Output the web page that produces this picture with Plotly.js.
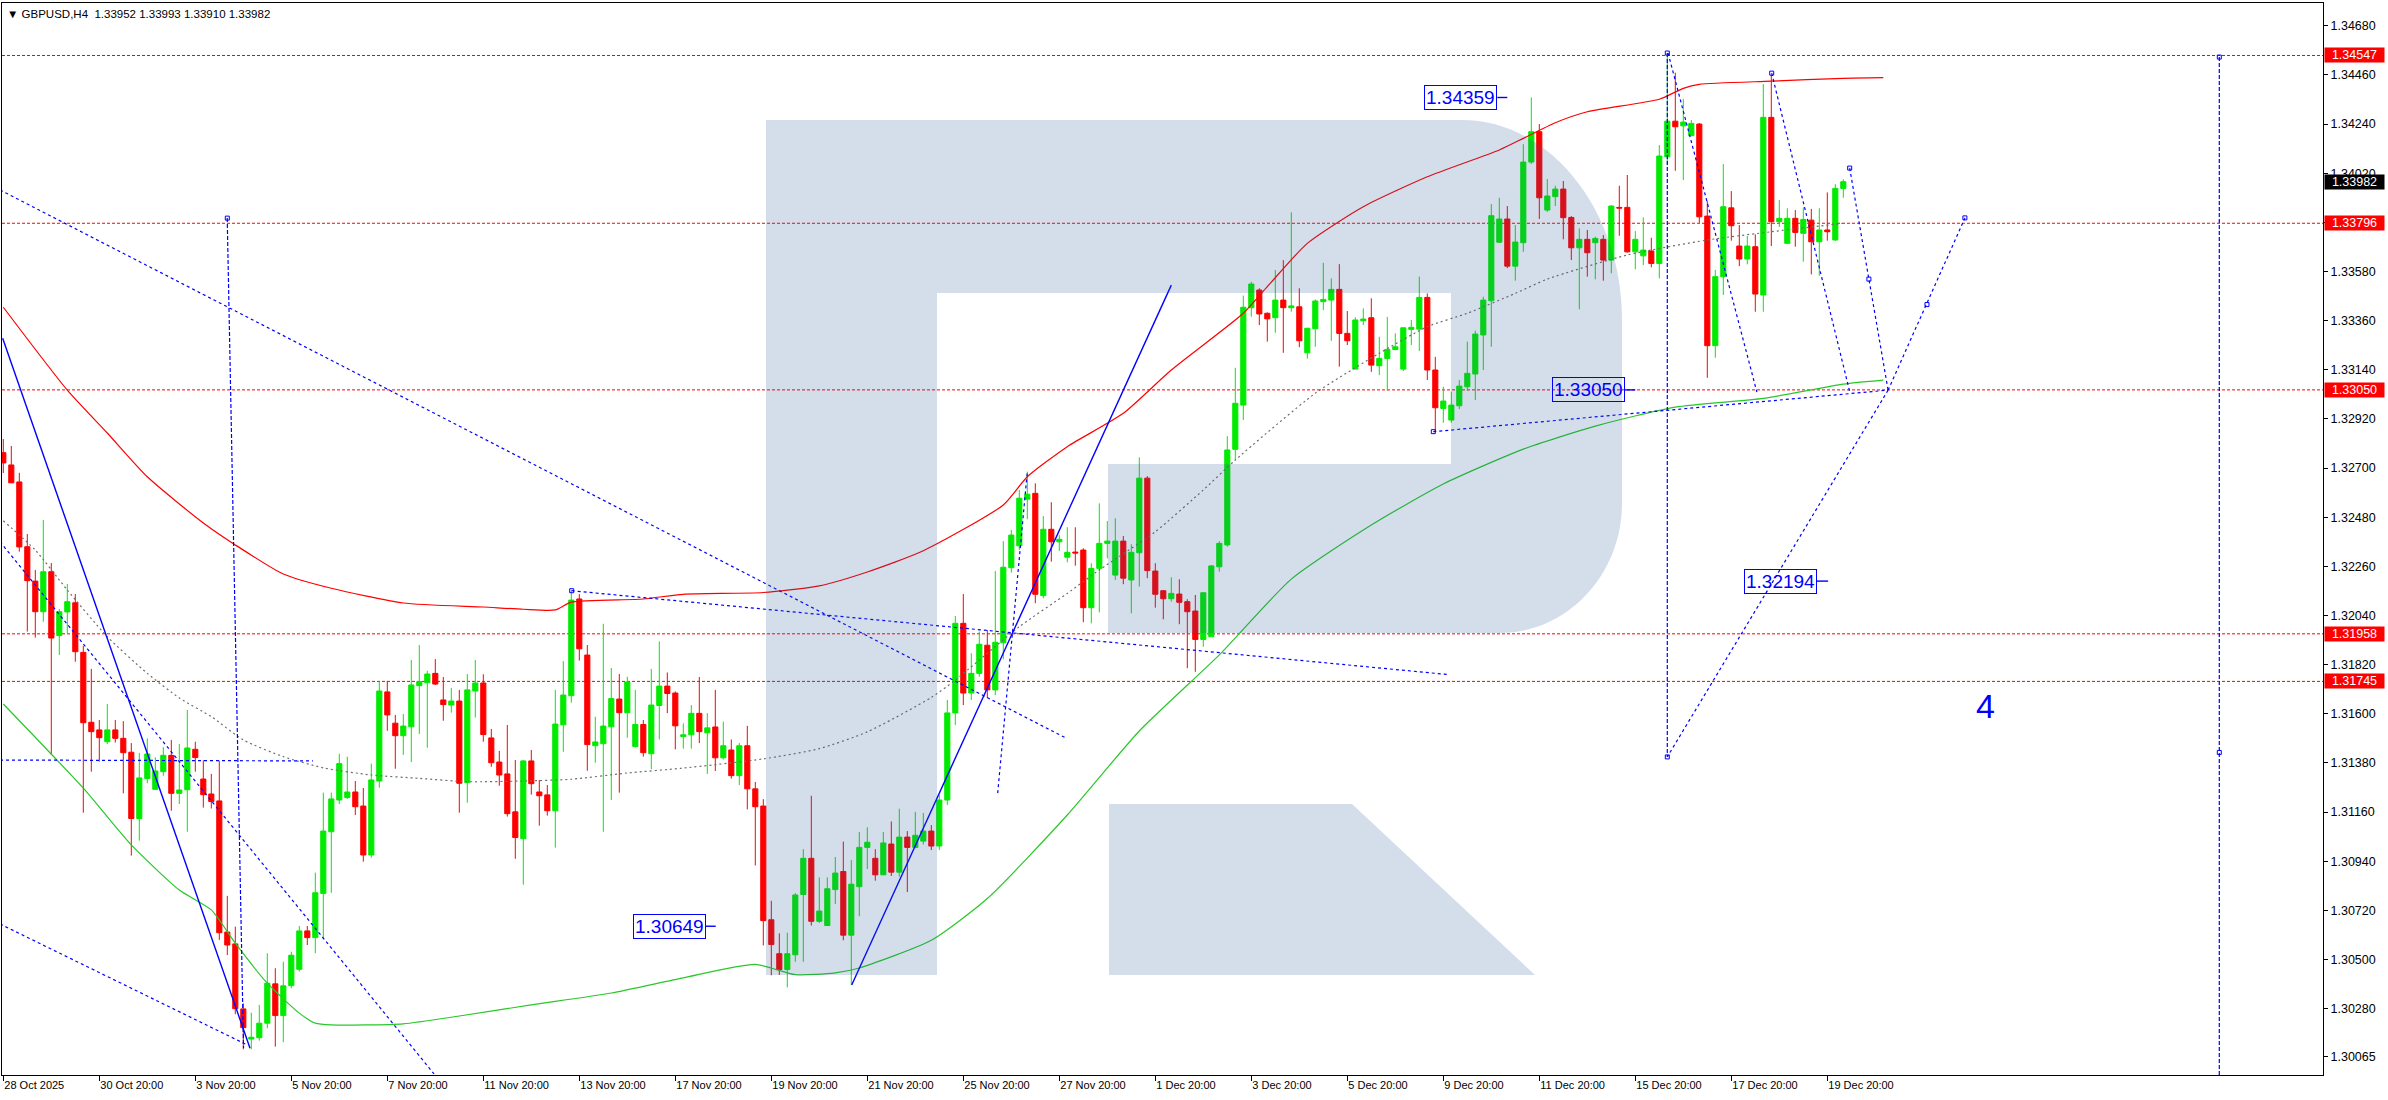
<!DOCTYPE html>
<html>
<head>
<meta charset="utf-8">
<script src="https://cdn.plot.ly/plotly-3.0.1.min.js"></script>
<style>
html,body{margin:0;padding:0;background:#ffffff;}
#chart{width:2388px;height:1100px;}
</style>
</head>
<body>
<div id="chart"></div>
<script>
// ---------------- DATA (GBPUSD H4, bar index 0 = 28 Oct 2025 20:00) ----------------
const openP = [
1.32769,1.32714,1.32638,1.32348,1.32194,1.32057,1.32236,1.31950,1.32056,1.32097,
1.31875,1.31562,1.31528,1.31475,1.31528,1.31490,1.31428,1.31131,1.31310,1.31262,
1.31341,1.31414,1.31244,1.31260,1.31441,1.31308,1.31241,1.31210,1.30623,1.30570,
1.30279,1.30144,1.30150,1.30215,1.30391,1.30249,1.30383,1.30456,1.30628,1.30598,
1.30796,1.31072,1.31214,1.31225,1.31250,1.31187,1.30968,1.31299,1.31698,1.31558,
1.31502,1.31542,1.31726,1.31739,1.31781,1.31662,1.31639,1.31657,1.31292,1.31702,
1.31738,1.31492,1.31384,1.31331,1.31161,1.31041,1.31389,1.31250,1.31237,1.31166,
1.31551,1.31681,1.32114,1.31863,1.31457,1.31466,1.31542,1.31666,1.31605,1.31454,
1.31552,1.31421,1.31637,1.31724,1.31693,1.31498,1.31506,1.31602,1.31515,1.31541,
1.31403,1.31438,1.31323,1.31457,1.31264,1.31187,1.30678,1.30526,1.30455,1.30521,
1.30791,1.30953,1.30671,1.30652,1.30813,1.30894,1.30609,1.30826,1.31002,1.30953,
1.30879,1.31017,1.30891,1.31048,1.31002,1.31030,1.31075,1.31008,1.31214,1.31604,
1.32005,1.31693,1.31781,1.31907,1.31707,1.31918,1.32254,1.32352,1.32561,1.32587,
1.32129,1.32426,1.32370,1.32301,1.32324,1.32333,1.32075,1.32251,1.32363,1.32221,
1.32373,1.32199,1.32321,1.32655,1.32239,1.32151,1.32115,1.32136,1.32102,1.32060,
1.31933,1.31945,1.32258,1.32356,1.32784,1.32982,1.33418,1.33497,1.33393,1.33373,
1.33452,1.33418,1.33422,1.33216,1.33324,1.33445,1.33452,1.33500,1.33303,1.33143,
1.33360,1.33373,1.33158,1.33191,1.33231,1.33143,1.33321,1.33322,1.33464,1.33139,
1.32967,1.32915,1.32979,1.33064,1.33121,1.33296,1.33449,1.33711,1.33815,1.33604,
1.33709,1.34070,1.34206,1.33855,1.33915,1.33949,1.33822,1.33686,1.33724,1.33709,
1.33724,1.33631,1.33867,1.33867,1.33668,1.33650,1.33672,1.33616,1.34094,1.34253,
1.34232,1.34188,1.34240,1.33828,1.33248,1.33557,1.33865,1.33694,1.33636,1.33691,
1.33475,1.34270,1.33803,1.33706,1.33818,1.33751,1.33810,1.33713,1.33766,1.33721,
1.33952];
const highP = [
1.32830,1.32799,1.32679,1.32405,1.32244,1.32468,1.32275,1.32069,1.32181,1.32136,
1.31904,1.31801,1.31572,1.31644,1.31572,1.31567,1.31469,1.31425,1.31490,1.31405,
1.31451,1.31483,1.31465,1.31617,1.31475,1.31392,1.31331,1.31390,1.30785,1.30647,
1.30304,1.30262,1.30297,1.30528,1.30461,1.30490,1.30535,1.30650,1.30650,1.30889,
1.31247,1.31247,1.31421,1.31408,1.31299,1.31268,1.31377,1.31744,1.31747,1.31595,
1.31599,1.31841,1.31908,1.31793,1.31845,1.31765,1.31716,1.31707,1.31778,1.31841,
1.31777,1.31532,1.31434,1.31550,1.31393,1.31393,1.31438,1.31304,1.31281,1.31707,
1.31836,1.32154,1.32136,1.31908,1.31587,1.32003,1.31805,1.31778,1.31766,1.31707,
1.31572,1.31801,1.31924,1.31785,1.31700,1.31557,1.31639,1.31765,1.31603,1.31707,
1.31565,1.31485,1.31469,1.31546,1.31295,1.31218,1.30763,1.30617,1.30620,1.30797,
1.30994,1.31233,1.30868,1.30868,1.30959,1.31028,1.30945,1.31071,1.31092,1.30994,
1.31071,1.31118,1.31175,1.31075,1.31161,1.31156,1.31102,1.31236,1.31662,1.32038,
1.32136,1.31871,1.31968,1.31975,1.32239,1.32373,1.32423,1.32602,1.32684,1.32632,
1.32485,1.32547,1.32400,1.32435,1.32435,1.32341,1.32274,1.32542,1.32463,1.32475,
1.32396,1.32359,1.32748,1.32664,1.32274,1.32154,1.32211,1.32202,1.32113,1.32132,
1.32142,1.32266,1.32373,1.32843,1.33149,1.33472,1.33534,1.33505,1.33397,1.33587,
1.33631,1.33845,1.33505,1.33326,1.33455,1.33619,1.33549,1.33613,1.33403,1.33375,
1.33415,1.33460,1.33288,1.33377,1.33303,1.33328,1.33363,1.33557,1.33482,1.33198,
1.33064,1.33042,1.33094,1.33266,1.33315,1.33467,1.33882,1.33910,1.33873,1.33788,
1.34150,1.34359,1.34240,1.33994,1.33964,1.33985,1.33828,1.33773,1.33766,1.33736,
1.33743,1.33877,1.33964,1.34012,1.33761,1.33822,1.33731,1.34146,1.34556,1.34470,
1.34352,1.34258,1.34245,1.33895,1.33587,1.34061,1.33940,1.33788,1.33739,1.33746,
1.34419,1.34459,1.33900,1.33863,1.33855,1.33867,1.33860,1.33863,1.33934,1.33971,
1.33993];
const lowP = [
1.32678,1.32633,1.32326,1.31968,1.31941,1.32012,1.31416,1.31863,1.31962,1.31833,
1.31157,1.31341,1.31386,1.31464,1.31471,1.31244,1.30965,1.31032,1.31289,1.31259,
1.31322,1.31166,1.31196,1.31072,1.31341,1.31180,1.31176,1.30588,1.30520,1.30255,
1.30098,1.30098,1.30137,1.30192,1.30110,1.30130,1.30371,1.30446,1.30565,1.30528,
1.30591,1.30799,1.31196,1.31219,1.31147,1.30938,1.30956,1.31269,1.31524,1.31354,
1.31416,1.31384,1.31510,1.31448,1.31729,1.31569,1.31605,1.31157,1.31202,1.31583,
1.31475,1.31363,1.31278,1.31140,1.30951,1.30835,1.31238,1.31099,1.31144,1.31001,
1.31430,1.31650,1.31838,1.31345,1.31381,1.31072,1.31214,1.31247,1.31493,1.31449,
1.31408,1.31352,1.31485,1.31603,1.31441,1.31444,1.31444,1.31469,1.31331,1.31344,
1.31395,1.31310,1.31281,1.31172,1.30921,1.30563,1.30429,1.30431,1.30375,1.30490,
1.30490,1.30652,1.30664,1.30652,1.30748,1.30586,1.30386,1.30694,1.30905,1.30853,
1.30879,1.30874,1.30871,1.30802,1.30998,1.31015,1.30990,1.30990,1.31192,1.31550,
1.31639,1.31662,1.31766,1.31671,1.31684,1.31844,1.32232,1.32333,1.32471,1.32095,
1.32117,1.32281,1.32329,1.32278,1.32263,1.32010,1.32005,1.32054,1.32296,1.32199,
1.32180,1.32050,1.32169,1.32207,1.32075,1.32023,1.32102,1.32001,1.31804,1.31788,
1.31900,1.31945,1.32236,1.32348,1.32736,1.32915,1.33378,1.33340,1.33266,1.33306,
1.33216,1.33400,1.33241,1.33190,1.33243,1.33407,1.33270,1.33154,1.33251,1.33143,
1.33340,1.33131,1.33116,1.33046,1.33228,1.33134,1.33251,1.33224,1.33094,1.32863,
1.32903,1.32903,1.32964,1.33046,1.33005,1.33139,1.33243,1.33711,1.33595,1.33539,
1.33668,1.34061,1.33815,1.33847,1.33873,1.33724,1.33631,1.33411,1.33557,1.33545,
1.33539,1.33572,1.33740,1.33664,1.33590,1.33609,1.33599,1.33549,1.34056,1.34031,
1.33989,1.34186,1.33798,1.33104,1.33194,1.33475,1.33718,1.33604,1.33612,1.33400,
1.33400,1.33694,1.33780,1.33706,1.33691,1.33624,1.33567,1.33561,1.33718,1.33718,
1.33910];
const closeP = [
1.32723,1.32634,1.32347,1.32196,1.32057,1.32236,1.31939,1.32057,1.32102,1.31878,
1.31560,1.31520,1.31493,1.31528,1.31490,1.31426,1.31131,1.31313,1.31420,1.31344,
1.31414,1.31244,1.31259,1.31447,1.31404,1.31238,1.31207,1.30620,1.30565,1.30280,
1.30195,1.30152,1.30215,1.30394,1.30249,1.30382,1.30519,1.30628,1.30598,1.30799,
1.31075,1.31219,1.31377,1.31250,1.31184,1.30968,1.31304,1.31702,1.31595,1.31502,
1.31545,1.31729,1.31744,1.31778,1.31733,1.31641,1.31657,1.31289,1.31707,1.31738,
1.31507,1.31381,1.31326,1.31153,1.31046,1.31389,1.31287,1.31233,1.31166,1.31554,
1.31684,1.32109,1.31891,1.31462,1.31474,1.31545,1.31668,1.31605,1.31742,1.31552,
1.31426,1.31639,1.31724,1.31691,1.31546,1.31506,1.31602,1.31520,1.31537,1.31403,
1.31457,1.31323,1.31457,1.31264,1.31184,1.30674,1.30567,1.30455,1.30526,1.30789,
1.30953,1.30671,1.30717,1.30817,1.30887,1.30609,1.30837,1.31002,1.31025,1.30879,
1.31022,1.30891,1.31048,1.31002,1.31056,1.31075,1.31008,1.31214,1.31604,1.32005,
1.31693,1.31781,1.31911,1.31707,1.31920,1.32256,1.32400,1.32565,1.32583,1.32135,
1.32426,1.32370,1.32381,1.32323,1.32320,1.32075,1.32251,1.32363,1.32373,1.32373,
1.32207,1.32323,1.32655,1.32241,1.32135,1.32115,1.32139,1.32099,1.32057,1.31933,
1.32142,1.32262,1.32363,1.32781,1.32990,1.33420,1.33524,1.33390,1.33368,1.33452,
1.33418,1.33426,1.33270,1.33326,1.33448,1.33455,1.33500,1.33303,1.33270,1.33363,
1.33367,1.33161,1.33191,1.33231,1.33243,1.33328,1.33330,1.33464,1.33139,1.32970,
1.33000,1.32982,1.33067,1.33124,1.33300,1.33452,1.33830,1.33815,1.33604,1.33712,
1.34070,1.34206,1.33910,1.33918,1.33949,1.33821,1.33686,1.33724,1.33664,1.33728,
1.33631,1.33873,1.33864,1.33668,1.33724,1.33676,1.33616,1.34097,1.34253,1.34228,
1.34249,1.34243,1.33825,1.33248,1.33557,1.33870,1.33785,1.33636,1.33694,1.33479,
1.34270,1.33803,1.33818,1.33818,1.33755,1.33813,1.33713,1.33766,1.33758,1.33952,
1.33982];

// Moving averages (at sample bars)
const redMaBars = [0,8,13,18,25,29,35,41,50,60,65,69,71,80,85,95,102,108,115,125,128,133,140,146,155,158,163,170,178,187,190,194,198,207,210,212,221,230,235];
const redMaVals = [1.33420,1.33049,1.32857,1.32661,1.32454,1.32356,1.32226,1.32162,1.32096,1.32078,1.32068,1.32065,1.32100,1.32114,1.32135,1.32143,1.32173,1.32235,1.32330,1.32535,1.32661,1.32796,1.32945,1.33139,1.33393,1.33512,1.33706,1.33870,1.34004,1.34124,1.34176,1.34246,1.34295,1.34351,1.34400,1.34418,1.34432,1.34445,1.34448];
const greenMaBars = [0,10,16,22,26,29,33,37,39,41,50,57,66,76,85,94,99,104,107,116,123,133,142,152,161,171,180,190,199,209,220,230,235];
const greenMaVals = [1.31644,1.31267,1.31013,1.30811,1.30722,1.30573,1.30394,1.30260,1.30215,1.30207,1.30212,1.30247,1.30297,1.30350,1.30418,1.30478,1.30432,1.30440,1.30462,1.30586,1.30773,1.31147,1.31523,1.31864,1.32203,1.32445,1.32629,1.32785,1.32888,1.32973,1.33012,1.33076,1.33094];
const grayMaBars = [0,4,8,13,18,22,26,30,35,40,46,52,58,65,71,78,85,95,102,108,116,119,127,133,137,144,150,154,164,172,178,183,189,193,203,213,221,230];
const grayMaVals = [1.32464,1.32333,1.32154,1.31945,1.31781,1.31671,1.31587,1.31483,1.31408,1.31358,1.31326,1.31311,1.31296,1.31299,1.31307,1.31335,1.31357,1.31398,1.31444,1.31519,1.31673,1.31751,1.31990,1.32139,1.32244,1.32415,1.32602,1.32736,1.33035,1.33214,1.33333,1.33393,1.33482,1.33546,1.33654,1.33721,1.33758,1.33796];

// Horizontal levels and axis tags
const levelPrices = [1.34547, 1.33796, 1.33050, 1.31958, 1.31745];
const lastPrice = 1.33982;

// Blue trend / forecast lines: [bar, price] endpoints
const dotLineA = [[-0.41,1.33945],[132.8,1.31492]];
const dotLineB = [[-0.41,1.30659],[30.46,1.30118]];
const dotLineC = [[-0.41,1.32370],[53.84,1.29988]];
const dotLineD = [[-0.41,1.31393],[38.7,1.31389]];
const dotLineE = [[27.99,1.33819],[30.03,1.30104]];
const dotLineH = [[71.05,1.32151],[180.8,1.31775]];
const dotLineI = [[124.3,1.31245],[128.0,1.32684]];
const dotLineJ1 = [[208.0,1.34558],[208.0,1.31407]];
const dotLineJ2 = [[208.1,1.34558],[219.2,1.33040]];
const dotLineJ3 = [[221.05,1.34468],[230.8,1.33042]];
const dotLineJ5 = [[230.8,1.34043],[235.6,1.33049]];
const dotLineJ6 = [[235.6,1.33049],[245.2,1.33819]];
const dotLineJ7 = [[235.6,1.33049],[208.0,1.31407]];
const dotLineK = [[178.75,1.32863],[235.6,1.33049]];
const dotLineRight = [[277.0,1.34540],[277.0,1.29900]];
const solidLineF = [[-0.08,1.33281],[30.84,1.30103]];
const solidLineG = [[106.05,1.30386],[146.0,1.33519]];
const anchorBars = [208.0,208.0,230.8,233.2,240.46,245.2,277.0,277.0,71.05,28.0,178.75,221.05];
const anchorPrices = [1.34558,1.31407,1.34043,1.33546,1.33432,1.33820,1.34540,1.31427,1.32151,1.33819,1.32863,1.34468];

// Price labels (boxed)
const labelTexts = ['1.34359','1.33050','1.32194','1.30649'];
const labelPrices = [1.34359, 1.33050, 1.32194, 1.30649];
const labelBoxEndBars = [186.75, 202.7, 226.7, 87.8];
const labelLineEndBars = [188.0, 204.0, 228.1, 89.05];
const waveText = '4';
const waveBar = 247.8, wavePrice = 1.31635;

// Axis ticks
const timeTickBars = [0,12,24,36,48,60,72,84,96,108,120,132,144,156,168,180,192,204,216,228];
const timeTickLabels = ['28 Oct 2025','30 Oct 20:00','3 Nov 20:00','5 Nov 20:00','7 Nov 20:00','11 Nov 20:00','13 Nov 20:00','17 Nov 20:00','19 Nov 20:00','21 Nov 20:00','25 Nov 20:00','27 Nov 20:00','1 Dec 20:00','3 Dec 20:00','5 Dec 20:00','9 Dec 20:00','11 Dec 20:00','15 Dec 20:00','17 Dec 20:00','19 Dec 20:00'];
const priceTicks = [1.34680,1.34460,1.34240,1.34020,1.33800,1.33580,1.33360,1.33140,1.32920,1.32700,1.32480,1.32260,1.32040,1.31820,1.31600,1.31380,1.31160,1.30940,1.30720,1.30500,1.30280,1.30065];

const titleText = '\u25BC GBPUSD,H4  1.33952 1.33993 1.33910 1.33982';

// ---------------- STYLE / LAYOUT ----------------
const W = 2388, H = 1100;
const M = {l: 2, r: 65, t: 3, b: 25};
const plotW = W - M.l - M.r, plotH = H - M.t - M.b;
const GREEN = 'rgb(0,235,0)', RED = 'rgb(255,0,0)', BLUE = 'rgb(0,0,255)';
const FONT = 'Liberation Sans, Arial, sans-serif';

const barIndex = openP.map((_, i) => i);

const traces = [];
function lineTrace(pts, color, width, dash) {
  return {type: 'scatter', mode: 'lines', x: pts.map(p => p[0]), y: pts.map(p => p[1]),
    line: {color: color, width: width, dash: dash}, hoverinfo: 'skip', showlegend: false};
}
// MAs
traces.push({type:'scatter', mode:'lines', x: grayMaBars, y: grayMaVals, line:{color:'rgb(110,110,110)', width:1.2, dash:'2px,3px', shape:'spline', smoothing:0.6}, hoverinfo:'skip', showlegend:false});
traces.push({type:'scatter', mode:'lines', x: redMaBars, y: redMaVals, line:{color:RED, width:1.2, shape:'spline', smoothing:0.6}, hoverinfo:'skip', showlegend:false});
traces.push({type:'scatter', mode:'lines', x: greenMaBars, y: greenMaVals, line:{color:'rgb(40,200,40)', width:1.2, shape:'spline', smoothing:0.6}, hoverinfo:'skip', showlegend:false});
// blue dotted lines
[dotLineA, dotLineB, dotLineC, dotLineD, dotLineH, dotLineI, dotLineJ2, dotLineJ3, dotLineJ5, dotLineJ6, dotLineJ7, dotLineK]
  .forEach(l => traces.push(lineTrace(l, BLUE, 1.2, '3px,3px')));
[dotLineE, dotLineJ1, dotLineRight].forEach(l => traces.push(lineTrace(l, BLUE, 1.2, '4px,2px')));
[solidLineF, solidLineG].forEach(l => traces.push(lineTrace(l, BLUE, 1.4, 'solid')));
// label connector lines
labelPrices.forEach((p, i) => traces.push(lineTrace([[labelBoxEndBars[i], p],[labelLineEndBars[i], p]], BLUE, 1.4, 'solid')));
// anchor markers
traces.push({type:'scatter', mode:'markers', x: anchorBars, y: anchorPrices,
  marker:{symbol:'square-open', size:4, color:BLUE, line:{width:1, color:BLUE}}, hoverinfo:'skip', showlegend:false});
// candles
traces.push({type:'candlestick', x: barIndex, open: openP, high: highP, low: lowP, close: closeP,
  increasing:{line:{color:GREEN, width:1}, fillcolor:GREEN},
  decreasing:{line:{color:RED, width:1}, fillcolor:RED},
  whiskerwidth: 0, hoverinfo:'skip', showlegend:false});

// watermark (paper coordinates built from page pixels)
function P(x, y) { return ((x - M.l) / plotW).toFixed(5) + ',' + (1 - (y - M.t) / plotH).toFixed(5); }
const wmMain = 'M' + P(766,975) + ' L' + P(766,120) + ' L' + P(1462,120) +
  ' C' + P(1550,120) + ' ' + P(1622,210) + ' ' + P(1622,320) +
  ' L' + P(1622,503) + ' C' + P(1622,575) + ' ' + P(1567,633) + ' ' + P(1500,633) +
  ' L' + P(1108,633) + ' L' + P(1108,464) + ' L' + P(1451,464) + ' L' + P(1451,293) +
  ' L' + P(937,293) + ' L' + P(937,975) + ' Z';
const wmLeg = 'M' + P(1109,804) + ' L' + P(1352,804) + ' L' + P(1535,975) + ' L' + P(1109,975) + ' Z';

const shapes = [];
levelPrices.forEach(p => shapes.push({type:'line', xref:'paper', yref:'y', x0:0, x1:1, y0:p, y1:p,
  line:{color:RED, width:1, dash:'3px,2px'}, layer:'below'}));
[wmMain, wmLeg].forEach(path => shapes.push({type:'path', xref:'paper', yref:'paper', path: path,
  fillcolor:'rgba(40,90,150,0.2)', line:{width:0}, layer:'above'}));

const annotations = [];
// axis price tags
levelPrices.forEach(p => annotations.push({xref:'paper', yref:'y', x:1, y:p, xanchor:'left', yanchor:'middle',
  xshift:1, text:p.toFixed(5), showarrow:false, bgcolor:RED, font:{family:FONT, size:12.5, color:'#ffffff'},
  width:57, height:12, borderpad:1, align:'center'}));
annotations.push({xref:'paper', yref:'y', x:1, y:lastPrice, xanchor:'left', yanchor:'middle',
  xshift:1, text:lastPrice.toFixed(5), showarrow:false, bgcolor:'#000000', font:{family:FONT, size:12.5, color:'#ffffff'},
  width:57, height:12, borderpad:1, align:'center'});
// boxed labels
labelTexts.forEach((t, i) => annotations.push({xref:'x', yref:'y', x:labelBoxEndBars[i], y:labelPrices[i],
  xanchor:'right', yanchor:'middle', text:t, showarrow:false, font:{family:FONT, size:19, color:BLUE},
  bordercolor:BLUE, borderwidth:1, borderpad:1}));
annotations.push({xref:'x', yref:'y', x:waveBar, y:wavePrice, text:waveText, showarrow:false,
  font:{family:FONT, size:34, color:BLUE}, xanchor:'center', yanchor:'middle'});
// title
annotations.push({xref:'paper', yref:'paper', x:0, y:1, xanchor:'left', yanchor:'top', xshift:3, yshift:-3,
  text:titleText, showarrow:false, font:{family:FONT, size:11.5, color:'#000000'}});

const layout = {
  width: W, height: H,
  margin: M,
  paper_bgcolor: '#ffffff', plot_bgcolor: '#ffffff',
  showlegend: false,
  boxgap: 0.2, boxgroupgap: 0.2,
  dragmode: false,
  xaxis: {
    range: [(M.l - 3.3) / 8, (W - M.r - 3.3) / 8],
    rangeslider: {visible: false},
    showgrid: false, zeroline: false,
    showline: true, mirror: true, linecolor: '#000000', linewidth: 1,
    tickmode: 'array', tickvals: timeTickBars, ticktext: timeTickLabels,
    ticks: 'outside', ticklen: 5, tickcolor: '#000000',
    ticklabelposition: 'outside right',
    tickfont: {family: FONT, size: 11, color: '#000000'},
    automargin: false, fixedrange: true
  },
  yaxis: {
    side: 'right',
    range: [1.29983, 1.34782],
    showgrid: false, zeroline: false,
    showline: true, mirror: true, linecolor: '#000000', linewidth: 1,
    tickmode: 'array', tickvals: priceTicks, ticktext: priceTicks.map(v => v.toFixed(5)),
    ticks: 'outside', ticklen: 4, tickcolor: '#000000',
    tickfont: {family: FONT, size: 12.5, color: '#000000'},
    automargin: false, fixedrange: true
  },
  shapes: shapes,
  annotations: annotations
};

Plotly.newPlot('chart', traces, layout, {staticPlot: true, displayModeBar: false});
</script>
</body>
</html>
